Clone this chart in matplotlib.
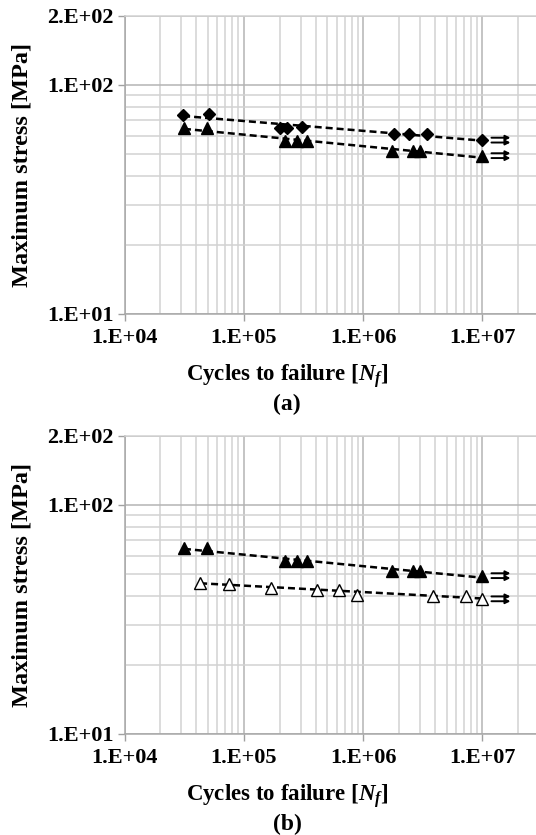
import numpy as np
import matplotlib
matplotlib.use("Agg")
import matplotlib.pyplot as plt
import matplotlib.transforms as mtransforms
from matplotlib.ticker import LogLocator, NullFormatter

plt.rcParams["font.family"] = ["Liberation Serif", "DejaVu Serif"]
plt.rcParams["font.weight"] = "bold"
plt.rcParams["axes.labelweight"] = "bold"
plt.rcParams["mathtext.fontset"] = "custom"
plt.rcParams["mathtext.rm"] = "Liberation Serif:bold"
plt.rcParams["mathtext.it"] = "Liberation Serif:italic:bold"
plt.rcParams["mathtext.bf"] = "Liberation Serif:bold"

# Data
diamond_n = [31000, 51000, 200000, 230000, 310000, 1800000, 2400000, 3450000, 10000000]
diamond_s = [74.0, 74.5, 65.1, 65.1, 65.6, 61.0, 61.0, 61.2, 57.4]

solid_tri_n = [31500, 49000, 221000, 277000, 339000, 1740000, 2640000, 3000000, 10000000]
solid_tri_s = [64.7, 64.7, 56.8, 56.8, 56.8, 51.5, 51.5, 51.5, 49.1]

open_tri_n = [43000, 75000, 169000, 411000, 628000, 890000, 3850000, 7280000, 10000000]
open_tri_s = [45.7, 45.3, 43.4, 42.6, 42.6, 40.5, 40.1, 40.1, 38.9]

x_ticks = [1e4, 1e5, 1e6, 1e7]
x_tick_labels = ["1.E+04", "1.E+05", "1.E+06", "1.E+07"]
y_ticks = [10, 100, 200]
y_tick_labels = ["1.E+01", "1.E+02", "2.E+02"]

runout = 1e7

fig = plt.figure(figsize=(5.36, 8.35), dpi=100)
ax_a = fig.add_axes([0.2323, 0.6240, 0.7677, 0.3569])
ax_b = fig.add_axes([0.2323, 0.1210, 0.7677, 0.3569])


def trend(ax, n, s):
    # power-law trendline, like the spreadsheet one
    k, c = np.polyfit(np.log10(n), np.log10(s), 1)
    xs = np.array([min(n), max(n)])
    ax.plot(xs, 10 ** (c + k * np.log10(xs)), color="black", lw=1.8,
            ls=(0, (2.8, 1.6)), zorder=3)


def runout_arrows(ax, n, s):
    for dy in (2.4, -2.4):
        head = mtransforms.offset_copy(ax.transData, fig=fig, x=28, y=dy, units="dots")
        tail = mtransforms.offset_copy(ax.transData, fig=fig, x=9, y=dy, units="dots")
        ax.annotate("", xy=(n, s), xycoords=head, xytext=(n, s), textcoords=tail,
                    arrowprops=dict(arrowstyle="-|>", lw=1.4, color="black",
                                    mutation_scale=7, shrinkA=0, shrinkB=0),
                    annotation_clip=False)


def style(ax, tag):
    ax.set_xscale("log")
    ax.set_yscale("log")
    ax.set_xlim(1e4, 2.81e7)
    ax.set_ylim(10, 200)
    ax.set_xticks(x_ticks)
    ax.set_xticklabels(x_tick_labels)
    ax.set_yticks(y_ticks)
    ax.set_yticklabels(y_tick_labels)
    ax.xaxis.set_minor_locator(LogLocator(base=10, subs=np.arange(2, 10), numticks=20))
    ax.yaxis.set_minor_locator(LogLocator(base=10, subs=np.arange(2, 10), numticks=20))
    ax.xaxis.set_minor_formatter(NullFormatter())
    ax.yaxis.set_minor_formatter(NullFormatter())
    ax.grid(which="major", color="#b4b4b4", lw=1.1, zorder=0)
    ax.grid(which="minor", color="#d2d2d2", lw=1.1, zorder=0)
    ax.set_axisbelow(True)
    ax.tick_params(which="major", length=5, width=1, color="#a0a0a0",
                   labelsize=16, pad=3)
    ax.tick_params(which="minor", length=0)
    ax.tick_params(axis="x", pad=5)
    for side in ("left", "bottom"):
        ax.spines[side].set_color("#a8a8a8")
        ax.spines[side].set_linewidth(1.1)
    ax.spines["top"].set_color("#d2d2d2")
    ax.spines["top"].set_linewidth(1.1)
    ax.spines["right"].set_visible(False)
    ax.set_ylabel("Maximum stress [MPa]", fontsize=17.5)
    ax.yaxis.set_label_coords(-0.249, 0.5)
    ax.yaxis.label.set_va("center")
    ax.set_xlabel("Cycles to failure [$N_f$]", fontsize=16.5)
    ax.xaxis.set_label_coords(0.395, -0.21)
    ax.xaxis.label.set_va("center")
    ax.text(0.395, -0.305, tag, transform=ax.transAxes, ha="center", va="center",
            fontsize=17)


# (a)
trend(ax_a, diamond_n, diamond_s)
trend(ax_a, solid_tri_n, solid_tri_s)
ax_a.plot(diamond_n, diamond_s, ls="none", marker="D", ms=6.5, color="black", zorder=4)
ax_a.plot(solid_tri_n, solid_tri_s, ls="none", marker="^", ms=8.5, color="black", zorder=4)
runout_arrows(ax_a, runout, diamond_s[-1])
runout_arrows(ax_a, runout, solid_tri_s[-1])
style(ax_a, "(a)")

# (b)
trend(ax_b, solid_tri_n, solid_tri_s)
trend(ax_b, open_tri_n, open_tri_s)
ax_b.plot(solid_tri_n, solid_tri_s, ls="none", marker="^", ms=8.5, color="black", zorder=4)
ax_b.plot(open_tri_n, open_tri_s, ls="none", marker="^", ms=8.5, mfc="white",
          mec="black", mew=1.0, zorder=4)
runout_arrows(ax_b, runout, solid_tri_s[-1])
runout_arrows(ax_b, runout, open_tri_s[-1])
style(ax_b, "(b)")

fig.savefig("out.png", dpi=100)
